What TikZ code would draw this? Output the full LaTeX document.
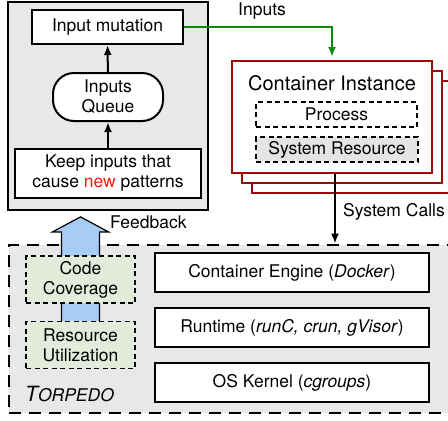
\documentclass[tikz,border=0pt]{standalone}
\usepackage{fontspec}
\setmainfont{TeX Gyre Heros}
\usetikzlibrary{arrows.meta,calc}
\definecolor{panelgray}{HTML}{E8E8EA}
\definecolor{darkred}{HTML}{9E0A0A}
\definecolor{inputgreen}{HTML}{0A8A0A}
\definecolor{feedblue}{HTML}{A8CDF5}
\definecolor{metricgreen}{HTML}{E3ECDB}
\definecolor{resgray}{HTML}{E4E4E4}
\definecolor{newred}{HTML}{F0200F}

\begin{document}
\begin{tikzpicture}[x=1pt, y=-1pt, font=\fontsize{17.5}{20}\selectfont,
  box/.style={draw, fill=white, line width=2pt, inner sep=0pt, align=center},
  layer/.style={draw, fill=white, line width=1.5pt, minimum width=274pt, minimum height=39pt},
  instbox/.style={draw=darkred, fill=white, line width=2pt, minimum width=200pt, minimum height=112pt},
  metric/.style={draw, fill=metricgreen, dash pattern=on 5pt off 3.5pt, line width=1.2pt,
    minimum width=109pt, minimum height=47pt, inner sep=0pt, align=center},
  flow/.style={-{Latex[length=10pt,width=8pt]}, line width=2pt}]

  \useasboundingbox (0,0) rectangle (448,421);
  \clip (0,0) rectangle (448,421);

  % Fuzzer panel
  \node[draw, fill=panelgray, line width=2.4pt, minimum width=200pt, minimum height=208pt] (fuzzer) at (108,106) {};
  \node[box, minimum width=151pt, minimum height=34pt] (mutation) at (107.5,27) {Input mutation};
  \node[box, rounded corners=21pt, minimum width=110pt, minimum height=48pt] (queue) at (108,97) {Inputs\\Queue};
  \node[box, minimum width=186pt, minimum height=49pt] (keep) at (108,173.5) {Keep inputs that\\cause \textcolor{newred}{new} patterns};
  \draw[flow] (keep) -- (queue);
  \draw[flow] (queue) -- (mutation);

  % Torpedo panel (runs off the right edge)
  \node[draw, fill=panelgray, line width=2.8pt, dash pattern=on 12pt off 8pt,
    minimum width=461pt, minimum height=168pt] (torpedo) at (239.5,329) {};

  % Container instances, back to front
  \foreach \dx in {20,10} {
    \node[instbox] at (332+\dx,117+\dx) {};
  }
  \node[instbox] (inst) at (332,117) {};
  \node[font=\fontsize{20}{22}\selectfont] (insttitle) at (332,83) {Container Instance};
  \node[draw, dash pattern=on 5pt off 3.5pt, line width=1.2pt, minimum width=161pt, minimum height=25pt,
    inner sep=0pt] (process) at (336.5,114.5) {Process};
  \node[draw, fill=resgray, dash pattern=on 5pt off 3.5pt, line width=1.2pt, minimum width=162pt,
    minimum height=25pt, inner sep=0pt] (sysres) at (337,149.5) {System Resource};

  % Inputs and system calls
  \draw[flow, inputgreen, shorten >=3pt] (mutation.east) -| (inst.north);
  \node[anchor=south west, inner sep=1pt] (inputs) at (237,21) {Inputs};
  \draw[flow] ([xshift=3pt]inst.south) -- ([xshift=3pt]inst.south |- torpedo.north);
  \node[anchor=west, inner sep=0pt] (syscalls) at (343,212) {System Calls};

  % Feedback arrow
  \node[metric] (res) at (80.5,345) {Resource\\Utilization};
  \filldraw[fill=feedblue, line width=1.2pt]
    ($(res.north)+(-19,0)$) -- ++(0,-89) -- ++(-9,0) -- ($(res.north)+(0,-104)$)
    -- ($(res.north)+(28,-89)$) -- ++(-9,0) -- ($(res.north)+(19,0)$);
  \node[metric] (cov) at (80.5,279.5) {Code\\Coverage};
  \node[anchor=west, inner sep=0pt] (feedback) at (110,222) {Feedback};
  \node[anchor=west, inner sep=0pt, font=\itshape\fontsize{17.5}{20}\selectfont] (torpedoname) at (25,394)
    {{\fontsize{21}{21}\selectfont T}ORPEDO};

  % Container stack layers
  \foreach \y/\lbl in {272.5/{Container Engine (\textit{Docker})},
                       327.5/{Runtime (\textit{runC, crun, gVisor})},
                       382.5/{OS Kernel (\textit{cgroups})}} {
    \node[layer] at (292,\y) {\lbl};
  }

\end{tikzpicture}
\end{document}
